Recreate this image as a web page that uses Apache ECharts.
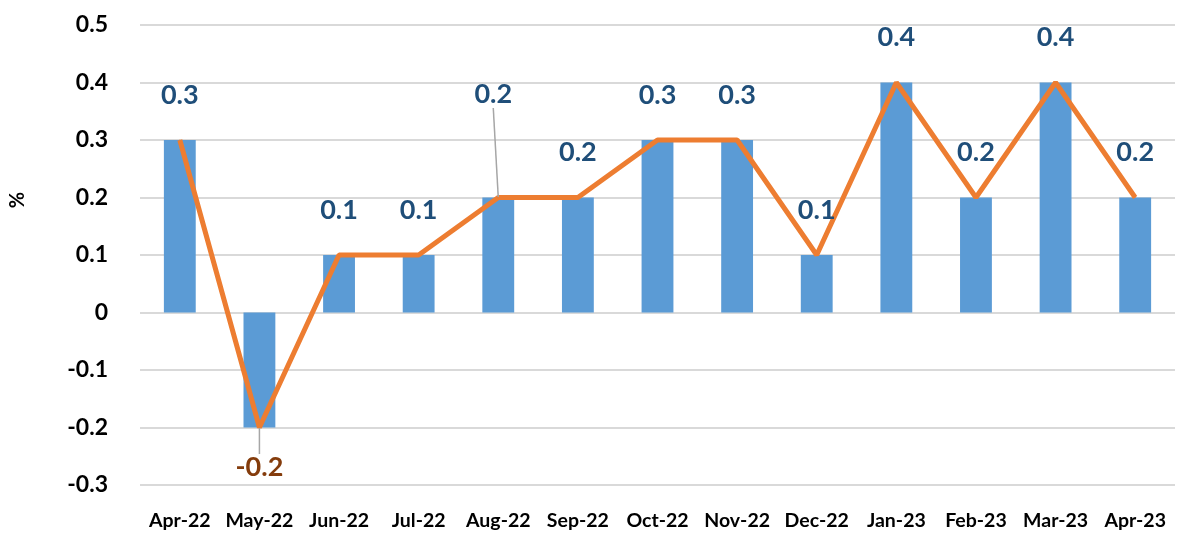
<!DOCTYPE html>
<html>
<head>
<meta charset="utf-8">
<script src="https://cdn.jsdelivr.net/npm/echarts@6/dist/echarts.min.js"></script>
<style>
  html, body { margin: 0; padding: 0; background: #fff; }
  #chart { width: 1177px; height: 536px; }
</style>
</head>
<body>
<div id="chart"></div>
<script>
const months = ['Apr-22', 'May-22', 'Jun-22', 'Jul-22', 'Aug-22', 'Sep-22', 'Oct-22',
                'Nov-22', 'Dec-22', 'Jan-23', 'Feb-23', 'Mar-23', 'Apr-23'];
const barValues = [0.3, -0.2, 0.1, 0.1, 0.2, 0.2, 0.3, 0.3, 0.1, 0.4, 0.2, 0.4, 0.2];
const lineValues = [0.3, -0.2, 0.1, 0.1, 0.2, 0.2, 0.3, 0.3, 0.1, 0.4, 0.2, 0.4, 0.2];

const font = 'Lato, "Open Sans", sans-serif';

// labels with a leader line (moved away from the point)
const movedLabels = { 1: [0, 14], 4: [-5, -58] };

const chart = echarts.init(document.getElementById('chart'));

chart.setOption({
    animation: false,
    grid: {
        left: 140,
        right: 2,
        top: 25,
        bottom: 51,
        containLabel: false,
        outerBoundsMode: 'none'
    },
    xAxis: {
        type: 'category',
        data: months,
        axisLine: { show: false, onZero: false },
        axisTick: { show: false },
        axisLabel: {
            interval: 0,
            color: '#000',
            fontFamily: font,
            fontWeight: 'bold',
            fontSize: 19.5,
            margin: 26
        }
    },
    yAxis: {
        type: 'value',
        min: -0.3,
        max: 0.5,
        interval: 0.1,
        name: '%',
        nameLocation: 'middle',
        nameRotate: 90,
        nameGap: 112,
        nameTextStyle: {
            color: '#000',
            fontFamily: font,
            fontWeight: 'bold',
            fontSize: 20,
            padding: [0, 0, 0, 110]
        },
        axisLine: { show: false },
        axisTick: { show: false },
        splitLine: {
            lineStyle: { color: '#D9D9D9', width: 2 }
        },
        axisLabel: {
            color: '#000',
            fontFamily: font,
            fontWeight: 'bold',
            fontSize: 23,
            margin: 32,
            formatter(value) {
                return Number(value.toFixed(1)).toString();
            }
        }
    },
    series: [
        {
            type: 'bar',
            data: barValues,
            barWidth: '40%',
            itemStyle: { color: '#5B9BD5' }
        },
        {
            type: 'line',
            symbol: 'circle',
            symbolSize: 1,
            showSymbol: true,
            itemStyle: { color: '#ED7D31' },
            lineStyle: { color: '#ED7D31', width: 5 },
            data: lineValues.map((v, i) => {
                const item = { value: v };
                if (v < 0) {
                    item.label = { position: 'bottom', distance: 12, color: '#843C0C' };
                }
                if (movedLabels[i] !== undefined) {
                    item.labelLine = { show: true };
                }
                return item;
            }),
            label: {
                show: true,
                position: 'top',
                distance: 31,
                color: '#1F4E79',
                fontFamily: font,
                fontWeight: 'bold',
                fontSize: 27
            },
            labelLine: {
                show: false,
                lineStyle: { color: '#A6A6A6', width: 1.5 }
            },
            labelLayout(params) {
                const move = movedLabels[params.dataIndex];
                if (move !== undefined) {
                    return { dx: move[0], dy: move[1] };
                }
                return {};
            },
            z: 3
        }
    ]
});
</script>
</body>
</html>
